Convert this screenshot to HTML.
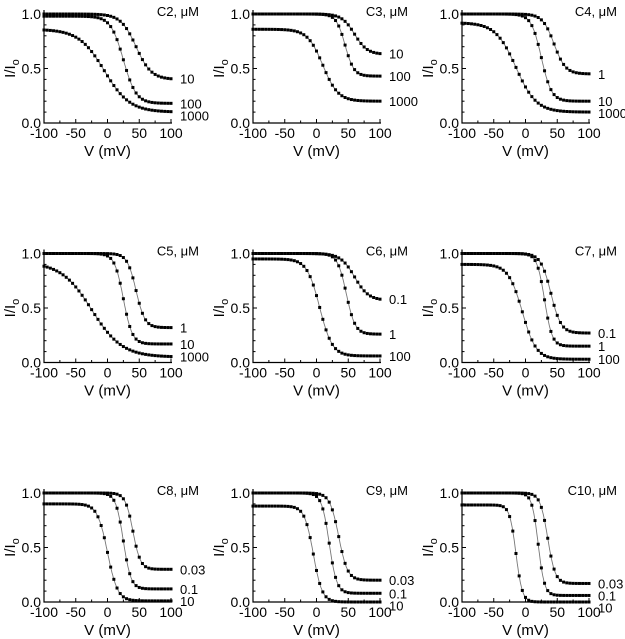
<!DOCTYPE html>
<html><head><meta charset="utf-8"><style>
body{margin:0;background:#fff;width:625px;height:639px;overflow:hidden}
svg{display:block;font-family:"Liberation Sans",sans-serif}
</style></head><body>
<svg id="fig" width="625" height="639" viewBox="0 0 625 639"></svg>
<script>
const panelTitles=["C2, μM","C3, μM","C4, μM","C5, μM","C6, μM","C7, μM","C8, μM","C9, μM","C10, μM"];
const concLabels=[["10","100","1000"],["10","100","1000"],["1","10","1000"],["1","10","1000"],["0.1","1","100"],["0.1","1","100"],["0.03","0.1","10"],["0.03","0.1","10"],["0.03","0.1","10"]];
const tops=[[1.0,0.98,0.86],[1.0,1.0,0.86],[1.0,1.0,0.92],[1.0,1.0,0.92],[1.0,1.0,0.95],[1.0,1.0,0.9],[1.0,1.0,0.9],[1.0,1.0,0.88],[1.0,1.0,0.89]];
const bottoms=[[0.4,0.18,0.1],[0.63,0.43,0.2],[0.45,0.2,0.1],[0.32,0.17,0.05],[0.57,0.26,0.06],[0.27,0.15,0.03],[0.3,0.12,0.01],[0.2,0.08,0.0],[0.17,0.06,0.0]];
const v50s=[[45,25,-5],[60,45,10],[45,25,-15],[45,25,-25],[60,47,5],[40,30,-5],[40,25,0],[35,20,-5],[35,20,-15]];
const slopes=[[12,10,20],[10,7,12],[9,8,16],[7,7,24],[11,7,10],[8,6,11],[6,6,8],[7,6,7],[6,5,5]];
const xTicks=[-100,-50,0,50,100];
const yTicks=[0,0.5,1.0];
const NS="http://www.w3.org/2000/svg";
const svg=document.getElementById('fig');
function mk(tag,attrs,parent){const e=document.createElementNS(NS,tag);for(const k in attrs)e.setAttribute(k,attrs[k]);parent.appendChild(e);return e;}
const W=127,H=109;
for(let p=0;p<9;p++){
  const c=p%3,r=Math.floor(p/3);
  const L=44+209*c,T=14+239.5*r;
  const sx=v=>L+(v+100)/200*W;
  const sy=y=>T+H-y*H;
  const g=mk('g',{},svg);
  
  
  const ax=mk('path',{d:`M${L} ${T-4}V${T+H}H${L+W+1}`,stroke:'#000','stroke-width':1.2,fill:'none'},g);
  
  
  for(let v=-100;v<=100;v+=25){mk('line',{x1:sx(v),x2:sx(v),y1:sy(0),y2:sy(0)-(v%50===0?4:2.5),stroke:'#000','stroke-width':1},g);}
  for(let y=0;y<=1.0001;y+=0.1){mk('line',{x1:L,x2:L+(Math.abs(y*2-Math.round(y*2))<0.01?4:2.5),y1:sy(y),y2:sy(y),stroke:'#000','stroke-width':1},g);}
  xTicks.forEach(v=>{const t=mk('text',{x:sx(v),y:sy(0)+15,'text-anchor':'middle','font-size':14},g);t.textContent=v;
    
    });
  yTicks.forEach(v=>{const t=mk('text',{x:L-3,y:sy(v)+5,'text-anchor':'end','font-size':14},g);t.textContent=v.toFixed(1);
    
    });
  const xt=mk('text',{x:L+W/2,y:sy(0)+33,'text-anchor':'middle','font-size':15},g);xt.textContent='V (mV)';
  
  
  const yt=mk('text',{transform:`translate(${L-29},${T+H/2}) rotate(-90)`,'text-anchor':'middle','font-size':15},g);
  yt.innerHTML='I/I<tspan font-size="11" dy="4">o</tspan>';
  
  
  const tt=mk('text',{x:L+W+28,y:T+2,'text-anchor':'end','font-size':13},g);tt.textContent=panelTitles[p];
  
  
  let lastLy=-1e9;
  const ends=[];
  for(let s=0;s<3;s++){
    const A=tops[p][s],B=bottoms[p][s],V=v50s[p][s],K=slopes[p][s];
    const f=v=>B+(A-B)/(1+Math.exp((v-V)/K));
    let d='';
    for(let v=-100;v<=100;v+=1){d+=(v===-100?'M':'L')+sx(v).toFixed(1)+' '+sy(f(v)).toFixed(1);}
    const ln=mk('path',{d:d,stroke:'#777','stroke-width':0.9,fill:'none'},g);
    
    
    for(let v=-100;v<=100;v+=5){
      const m=mk('rect',{x:sx(v)-1.5,y:sy(f(v))-1.5,width:3,height:3,fill:'#000'},g);
      
      
    }
    ends.push(sy(f(100)));
  }
  for(let s=0;s<3;s++){
    let ly=ends[s];
    if(ly<lastLy+12)ly=lastLy+12;
    lastLy=ly;
    const lt=mk('text',{x:L+W+9,y:ly+5,'font-size':13},g);lt.textContent=concLabels[p][s];
    
    
  }
}
</script>
</body></html>
